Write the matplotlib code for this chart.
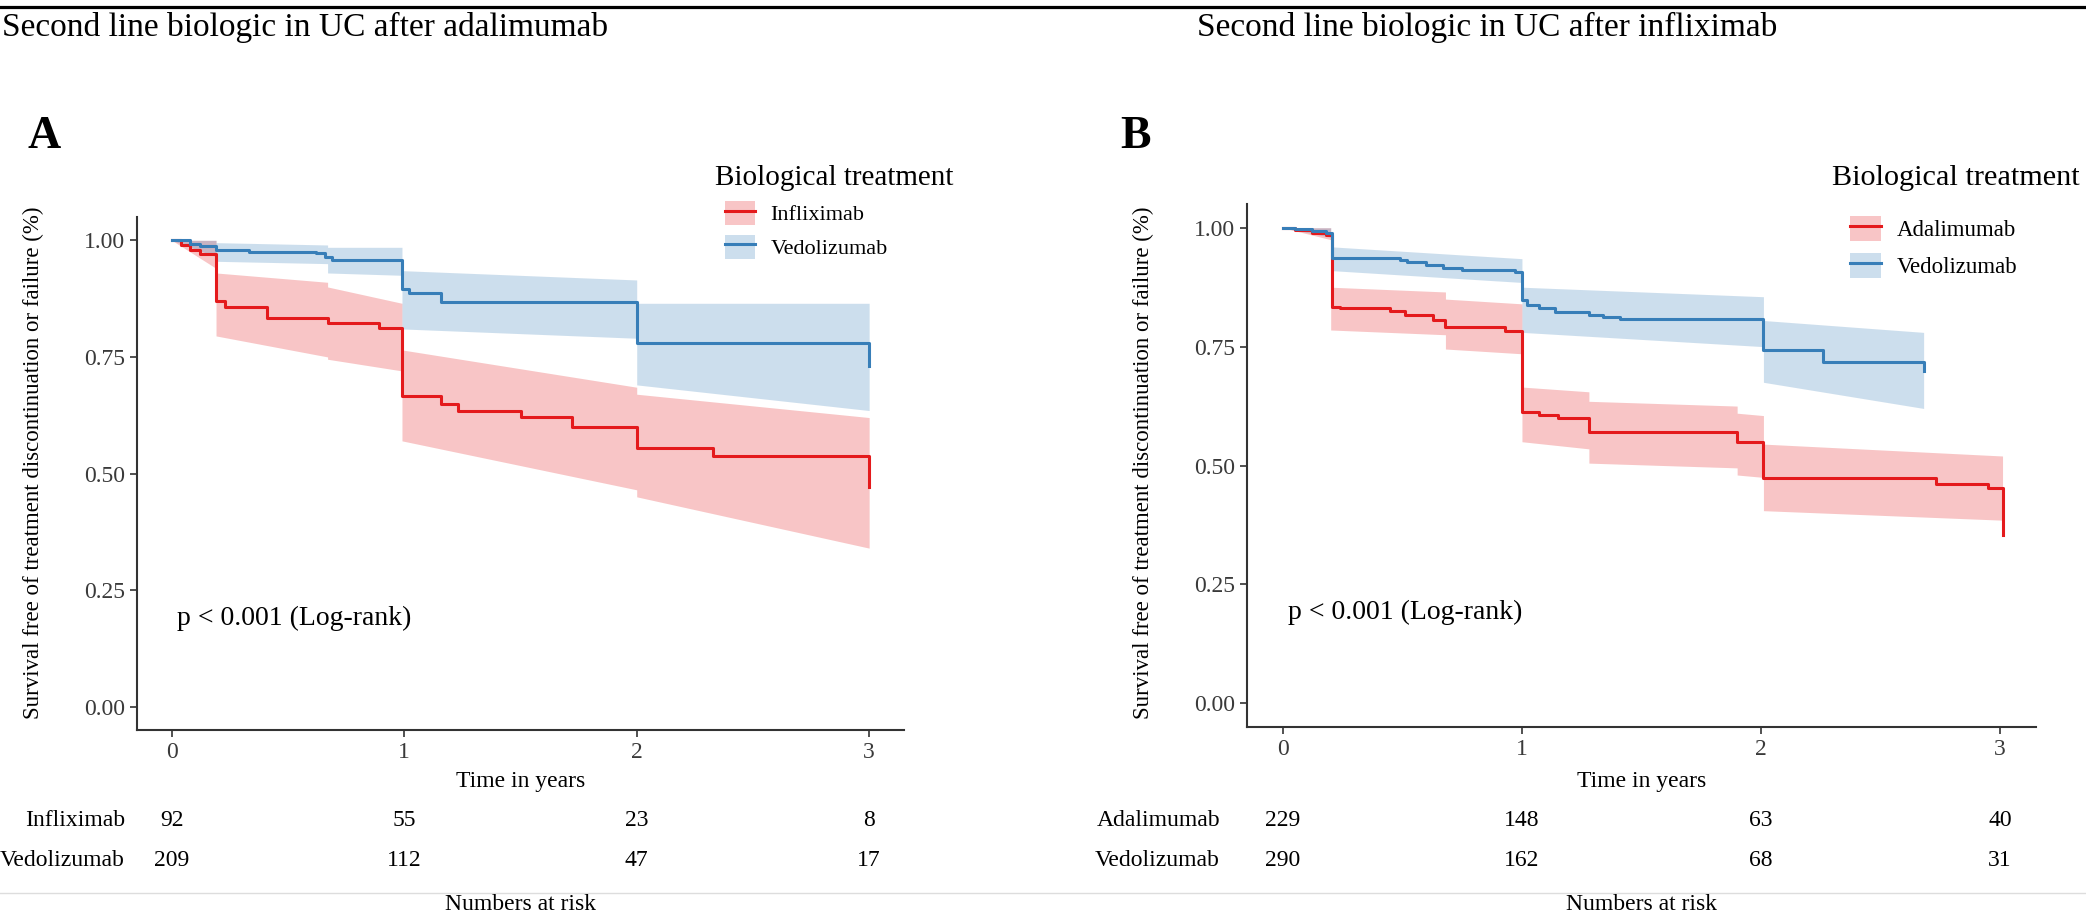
import matplotlib
matplotlib.use('Agg')
import matplotlib.pyplot as plt
from matplotlib.patches import Patch
from matplotlib.lines import Line2D
from matplotlib.transforms import blended_transform_factory

plt.rcParams['font.family'] = ['Liberation Serif', 'DejaVu Serif']

W, H = 2086, 915
RED = '#E41A1C'
BLUE = '#377EB8'

# ---- Panel A: second line biologic after adalimumab ----
a_infl_t = [0, 0.04, 0.08, 0.12, 0.19, 0.23, 0.41, 0.67, 0.89, 0.99, 1.16, 1.23, 1.50, 1.72, 2.00, 2.33, 3.0]
a_infl_s = [1.0, 0.99, 0.98, 0.97, 0.87, 0.856, 0.833, 0.823, 0.812, 0.667, 0.65, 0.634, 0.621, 0.60, 0.555, 0.537, 0.47]
a_infl_band_t = [0, 0.19, 0.19, 0.67, 0.67, 0.99, 0.99, 2.0, 2.0, 3.0]
a_infl_up = [1.0, 1.0, 0.93, 0.91, 0.90, 0.865, 0.765, 0.685, 0.67, 0.62]
a_infl_lo = [1.0, 0.94, 0.795, 0.75, 0.745, 0.72, 0.57, 0.465, 0.45, 0.34]

a_vedo_t = [0, 0.08, 0.12, 0.19, 0.33, 0.62, 0.66, 0.69, 0.99, 1.02, 1.16, 2.0, 3.0]
a_vedo_s = [1.0, 0.993, 0.987, 0.98, 0.976, 0.972, 0.965, 0.958, 0.895, 0.886, 0.867, 0.779, 0.731]
a_vedo_band_t = [0, 0.19, 0.19, 0.67, 0.67, 0.99, 0.99, 2.0, 2.0, 3.0]
a_vedo_up = [1.0, 1.0, 0.995, 0.99, 0.985, 0.985, 0.935, 0.915, 0.865, 0.865]
a_vedo_lo = [1.0, 0.965, 0.955, 0.95, 0.93, 0.925, 0.81, 0.79, 0.69, 0.635]

a_groups = ['Infliximab', 'Vedolizumab']
a_risk = [[92, 55, 23, 8], [209, 112, 47, 17]]

# ---- Panel B: second line biologic after infliximab ----
b_adal_t = [0, 0.05, 0.12, 0.18, 0.205, 0.24, 0.45, 0.51, 0.63, 0.68, 0.93, 1.0, 1.07, 1.15, 1.28, 1.9, 2.01, 2.73, 2.95, 3.01]
b_adal_s = [1.0, 0.995, 0.99, 0.985, 0.834, 0.831, 0.824, 0.817, 0.806, 0.791, 0.782, 0.613, 0.606, 0.599, 0.571, 0.55, 0.473, 0.462, 0.452, 0.354]
b_adal_band_t = [0, 0.2, 0.2, 0.68, 0.68, 1.0, 1.0, 1.28, 1.28, 1.9, 1.9, 2.01, 2.01, 3.01]
b_adal_up = [1.0, 1.0, 0.875, 0.865, 0.85, 0.84, 0.665, 0.655, 0.635, 0.625, 0.61, 0.605, 0.545, 0.52]
b_adal_lo = [1.0, 0.975, 0.785, 0.775, 0.745, 0.735, 0.55, 0.535, 0.505, 0.495, 0.48, 0.475, 0.405, 0.385]

b_vedo_t = [0, 0.05, 0.12, 0.18, 0.205, 0.49, 0.52, 0.6, 0.67, 0.75, 0.97, 1.0, 1.02, 1.07, 1.14, 1.28, 1.34, 1.41, 2.01, 2.26, 2.68]
b_vedo_s = [1.0, 0.997, 0.993, 0.99, 0.936, 0.933, 0.927, 0.922, 0.916, 0.912, 0.906, 0.848, 0.838, 0.831, 0.822, 0.817, 0.813, 0.808, 0.743, 0.717, 0.698]
b_vedo_band_t = [0, 0.2, 0.2, 1.0, 1.0, 2.01, 2.01, 2.68]
b_vedo_up = [1.0, 1.0, 0.96, 0.935, 0.875, 0.855, 0.805, 0.78]
b_vedo_lo = [1.0, 0.98, 0.91, 0.885, 0.78, 0.75, 0.675, 0.62]

b_groups = ['Adalimumab', 'Vedolizumab']
b_risk = [[229, 148, 63, 40], [290, 162, 68, 31]]

x_ticks = [0, 1, 2, 3]
y_ticks = [0, 0.25, 0.5, 0.75, 1.0]
y_ticklabels = ['0.00', '0.25', '0.50', '0.75', '1.00']


def fx(x):
    return x / W


def fy(y):
    return 1 - y / H


fig = plt.figure(figsize=(W / 100, H / 100), dpi=100)


def km_panel(rect, curves, bands, groups, risk, letter, title, pos):
    ax = fig.add_axes(rect)
    for (t, lo, up), c in zip(bands, [RED, BLUE]):
        ax.fill_between(t, lo, up, color=c, alpha=0.25, lw=0)
    for (t, s), c in zip(curves, [RED, BLUE]):
        ax.step(t, s, where='post', color=c, lw=2.2)
    ax.set_xlim(-0.15, 3.15)
    ax.set_ylim(-0.05, 1.05)
    ax.set_xticks(x_ticks)
    ax.set_yticks(y_ticks)
    ax.set_yticklabels(y_ticklabels)
    for s in ['top', 'right']:
        ax.spines[s].set_visible(False)
    for s in ['left', 'bottom']:
        ax.spines[s].set_linewidth(1.5)
        ax.spines[s].set_color('#333333')
    ax.tick_params(length=5, width=1.2, color='#333333', labelsize=17, labelcolor='#3a3a3a')
    ax.text(0.02, 0.19, 'p < 0.001 (Log-rank)', fontsize=20, va='center')

    # legend
    handles = [(Patch(facecolor=c, alpha=0.25, edgecolor='none'), Line2D([], [], color=c, lw=2.2))
               for c in [RED, BLUE]]
    ax.legend(handles, groups, loc='center left', bbox_to_anchor=(fx(pos['leg_x']), fy(pos['leg_y'])),
              bbox_transform=fig.transFigure, frameon=False, fontsize=pos['leg_fs'], borderpad=0,
              borderaxespad=0, handlelength=1.35, handleheight=1.3, handletextpad=0.7,
              labelspacing=pos['leg_sp'])
    fig.text(fx(pos['leg_title_x']), fy(185), 'Biological treatment', fontsize=pos['leg_title_fs'],
             va='baseline')

    # titles
    fig.text(fx(pos['title_x']), fy(36), title, fontsize=24, va='baseline')
    fig.text(fx(pos['letter_x']), fy(148), letter, fontsize=33, fontweight='bold', va='baseline')

    # axis labels
    cx = (pos['ax_l'] + pos['ax_r']) / 2
    fig.text(fx(cx), fy(781), 'Time in years', fontsize=17, ha='center', va='center')
    fig.text(fx(pos['ylab_x']), fy(463), 'Survival free of treatment discontinuation or failure (%)',
             fontsize=16.5, rotation=90, ha='center', va='center')

    # numbers at risk
    trans = blended_transform_factory(ax.transData, fig.transFigure)
    for row, (g, counts) in enumerate(zip(groups, risk)):
        yy = [821, 861][row]
        fig.text(fx(pos['risk_lab_x']), fy(yy), g, fontsize=17, ha='right', va='center')
        for xt, n in zip(x_ticks, counts):
            ax.text(xt, fy(yy), str(n), transform=trans, fontsize=17, ha='center', va='center')
    fig.text(fx(cx), fy(905), 'Numbers at risk', fontsize=17, ha='center', va='center')
    return ax


pos_a = dict(leg_x=725, leg_y=230, leg_sp=0.42, leg_fs=16, leg_title_x=715, leg_title_fs=21,
             title_x=2, letter_x=28, ax_l=137, ax_r=904, ylab_x=33, risk_lab_x=125)
pos_b = dict(leg_x=1850, leg_y=247, leg_sp=0.55, leg_fs=16.5, leg_title_x=1832, leg_title_fs=21.8,
             title_x=1197, letter_x=1120, ax_l=1247, ax_r=2036, ylab_x=1143, risk_lab_x=1220)

km_panel([fx(137), fy(730), (904 - 137) / W, (730 - 217) / H],
         [(a_infl_t, a_infl_s), (a_vedo_t, a_vedo_s)],
         [(a_infl_band_t, a_infl_lo, a_infl_up), (a_vedo_band_t, a_vedo_lo, a_vedo_up)],
         a_groups, a_risk, 'A', 'Second line biologic in UC after adalimumab', pos_a)
km_panel([fx(1247), fy(727), (2036 - 1247) / W, (727 - 204) / H],
         [(b_adal_t, b_adal_s), (b_vedo_t, b_vedo_s)],
         [(b_adal_band_t, b_adal_lo, b_adal_up), (b_vedo_band_t, b_vedo_lo, b_vedo_up)],
         b_groups, b_risk, 'B', 'Second line biologic in UC after infliximab', pos_b)

# frame lines at top and bottom of the figure
fig.add_artist(Line2D([0, 1], [fy(7), fy(7)], color='black', lw=2.3, transform=fig.transFigure))
fig.add_artist(Line2D([0, 1], [fy(893), fy(893)], color='#dddddd', lw=1, transform=fig.transFigure))

fig.savefig('out.png', dpi=100)
